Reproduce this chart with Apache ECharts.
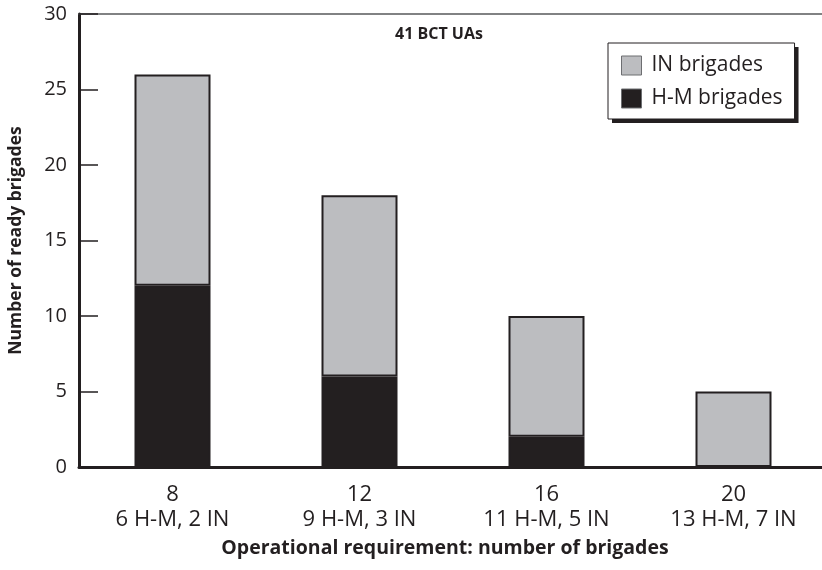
<!DOCTYPE html>
<html><head><meta charset="utf-8">
<script src="https://cdn.jsdelivr.net/npm/echarts@6/dist/echarts.min.js"></script>
<style>html,body{margin:0;padding:0;background:#fff}#c{width:822px;height:570px}</style>
</head><body><div id="c"></div>
<script>
var categories = ['8\n6 H-M, 2 IN', '12\n9 H-M, 3 IN', '16\n11 H-M, 5 IN', '20\n13 H-M, 7 IN'];
var hmBrigades = [12, 6, 2, 0];
var inBrigades = [14, 12, 8, 5];
var yTicks = [0, 5, 10, 15, 20, 25, 30];

var ink = '#231f20', grey = '#bcbdc0';
var font = 'Open Sans';
var legendBase = {
  data: ['IN brigades', 'H-M brigades'], orient: 'vertical', icon: 'rect',
  padding: [12, 12, 10, 13], itemGap: 12, itemWidth: 20, itemHeight: 19
};
var chart = echarts.init(document.getElementById('c'));
chart.setOption({
  animation: false,
  textStyle: {fontFamily: font, color: ink},
  title: {text: '41 BCT UAs', left: 395, top: 26, padding: 0,
    textStyle: {fontFamily: font, fontSize: 16, fontWeight: 'bold', color: ink}},
  legend: [
    Object.assign({}, legendBase, {
      left: 612, top: 47, z: 1, backgroundColor: ink, borderWidth: 0,
      textStyle: {fontFamily: font, fontSize: 21, color: ink, padding: [0, 0, 0, 5]},
      itemStyle: {color: ink, borderColor: ink, borderWidth: 1}
    }),
    Object.assign({}, legendBase, {
      left: 608, top: 43, z: 3, backgroundColor: '#fff', borderColor: ink, borderWidth: 1,
      textStyle: {fontFamily: font, fontSize: 21, color: ink, padding: [0, 0, 0, 5]},
      itemStyle: {borderColor: '#6d6e71', borderWidth: 1}
    })
  ],
  grid: {left: 79, right: -5, top: 14, bottom: 103, outerBoundsMode: 'none'},
  xAxis: [{
    type: 'category', data: categories,
    axisLine: {lineStyle: {color: ink, width: 3}},
    axisTick: {show: false},
    axisLabel: {fontFamily: font, fontSize: 22, color: ink, lineHeight: 25, margin: 15},
    name: 'Operational requirement: number of brigades', nameLocation: 'middle', nameGap: 71,
    nameTextStyle: {fontFamily: font, fontSize: 19.5, fontWeight: 'bold', color: ink, padding: [0, 16, 0, 0]}
  }, {
    type: 'category', data: categories, position: 'top',
    axisLine: {lineStyle: {color: '#58595b', width: 1.5}},
    axisTick: {show: false}, axisLabel: {show: false}
  }],
  yAxis: {
    type: 'value', min: yTicks[0], max: yTicks[yTicks.length - 1], interval: 5,
    axisLine: {show: true, lineStyle: {color: ink, width: 3}},
    axisTick: {show: true, inside: true, length: 19, lineStyle: {color: ink, width: 1.5}},
    splitLine: {show: false},
    axisLabel: {fontFamily: font, fontSize: 20, color: ink, margin: 12},
    name: 'Number of ready brigades', nameLocation: 'middle', nameGap: 54,
    nameTextStyle: {fontFamily: font, fontSize: 17.5, fontWeight: 'bold', color: ink}
  },
  series: [{
    name: 'H-M brigades', type: 'bar', stack: 'a', data: hmBrigades, barWidth: 76,
    itemStyle: {color: ink, borderColor: ink, borderWidth: 2}
  }, {
    name: 'IN brigades', type: 'bar', stack: 'a', data: inBrigades, barWidth: 76,
    itemStyle: {color: grey, borderColor: ink, borderWidth: 2}
  }]
});
</script></body></html>
